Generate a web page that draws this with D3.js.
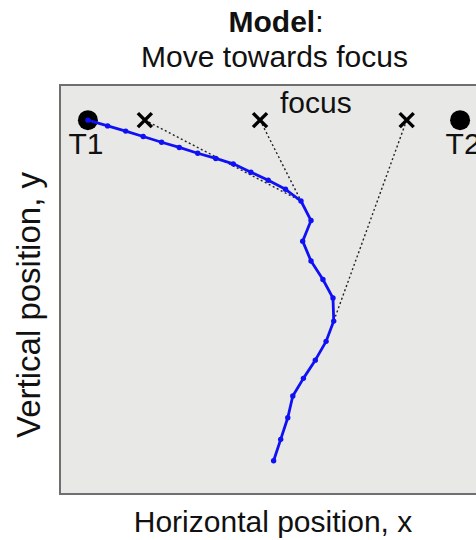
<!DOCTYPE html>
<html>
<head>
<meta charset="utf-8">
<script src="https://cdn.jsdelivr.net/npm/d3@7"></script>
<style>
  html, body { margin: 0; padding: 0; background: #ffffff; }
  svg { display: block; }
  text { font-family: "Liberation Sans", Arial, Helvetica, sans-serif; fill: #111; }
</style>
</head>
<body>
<script>
// ---- data (units: target separation = 2, targets at x = -1 and +1) ----
const trajX = [-1.000, -0.894, -0.797, -0.703, -0.604, -0.509, -0.410, -0.313, -0.219, -0.124,
               -0.031, 0.062, 0.145, 0.199, 0.154, 0.199, 0.263, 0.317, 0.321, 0.280,
               0.222, 0.158, 0.101, 0.074, 0.036, -0.002];
const trajY = [2.011, 1.980, 1.952, 1.923, 1.892, 1.864, 1.833, 1.805, 1.776, 1.731,
               1.688, 1.639, 1.576, 1.471, 1.360, 1.253, 1.154, 1.054, 0.930, 0.821,
               0.720, 0.622, 0.527, 0.410, 0.294, 0.179];
const focusX = [-0.694, -0.075, 0.713];
const focusY = [2.011, 2.011, 2.011];
const focusLinkIndex = [12, 12, 18];   // trajectory point each focus is linked to
const targetNames = ["T1", "T2"];
const targetX = [-1, 1];
const targetY = [2.011, 2.011];
const titleBold = "Model";
const titleRest = ":";
const subtitle = "Move towards focus";
const focusLabel = "focus";
const xLabel = "Horizontal position, x";
const yLabel = "Vertical position, y";

const W = 476, H = 540;
const svg = d3.select("body").append("svg").attr("width", W).attr("height", H);

const mLeft = 60, mRight = 488, mTop = 85, mBottom = 494;
const x = d3.scaleLinear().domain([-1.15, 1.15]).range([mLeft, mRight]);
const y = d3.scaleLinear().domain([0, 2.2]).range([mBottom, mTop]);

// plot box
svg.append("rect")
  .attr("x", mLeft).attr("y", mTop)
  .attr("width", mRight - mLeft).attr("height", mBottom - mTop)
  .attr("fill", "#e8e9e6").attr("stroke", "#6f6f6f").attr("stroke-width", 2);

// title
const t = svg.append("text").attr("x", 276).attr("y", 32).attr("text-anchor", "middle")
  .style("font-size", "30px");
t.append("tspan").attr("font-weight", "bold").text(titleBold);
t.append("tspan").text(titleRest);
svg.append("text").attr("x", 274.5).attr("y", 67).attr("text-anchor", "middle")
  .style("font-size", "30px").text(subtitle);

// axis labels
svg.append("text").attr("x", 273).attr("y", 532).attr("text-anchor", "middle")
  .style("font-size", "30px").text(xLabel);
svg.append("text").attr("transform", "translate(40,305) rotate(-90)")
  .attr("text-anchor", "middle").style("font-size", "33px").text(yLabel);

// dotted focus links
const traj = trajX.map((v, i) => ({x: v, y: trajY[i]}));
svg.append("g").selectAll("line").data(focusX).join("line")
  .attr("x1", (d, i) => x(d)).attr("y1", (d, i) => y(focusY[i]))
  .attr("x2", (d, i) => x(traj[focusLinkIndex[i]].x))
  .attr("y2", (d, i) => y(traj[focusLinkIndex[i]].y))
  .attr("stroke", "#222").attr("stroke-width", 1.4).attr("stroke-dasharray", "2,2.5");

// focus crosses
const cs = 7;
svg.append("g").selectAll("path").data(focusX).join("path")
  .attr("d", (d, i) => {
    const cx = x(d), cy = y(focusY[i]);
    return `M${cx - cs},${cy - cs}L${cx + cs},${cy + cs}M${cx - cs},${cy + cs}L${cx + cs},${cy - cs}`;
  })
  .attr("stroke", "#000").attr("stroke-width", 3.5).attr("fill", "none");

svg.append("text").attr("x", 280).attr("y", 113).style("font-size", "30px").text(focusLabel);

// targets
svg.append("g").selectAll("circle").data(targetX).join("circle")
  .attr("cx", d => x(d)).attr("cy", (d, i) => y(targetY[i])).attr("r", 10).attr("fill", "#000");
svg.append("g").selectAll("text").data(targetNames).join("text")
  .attr("x", (d, i) => x(targetX[i]) + (i === 0 ? -2 : 3)).attr("y", (d, i) => y(targetY[i]) + 34)
  .attr("text-anchor", "middle").style("font-size", "30px").text(d => d);

// trajectory
const line = d3.line().x(d => x(d.x)).y(d => y(d.y));
svg.append("path").datum(traj).attr("d", line)
  .attr("fill", "none").attr("stroke", "#1010f5").attr("stroke-width", 2.8)
  .attr("stroke-linejoin", "round");
svg.append("g").selectAll("circle").data(traj).join("circle")
  .attr("cx", d => x(d.x)).attr("cy", d => y(d.y)).attr("r", 2.7).attr("fill", "#1010f5");
</script>
</body>
</html>
